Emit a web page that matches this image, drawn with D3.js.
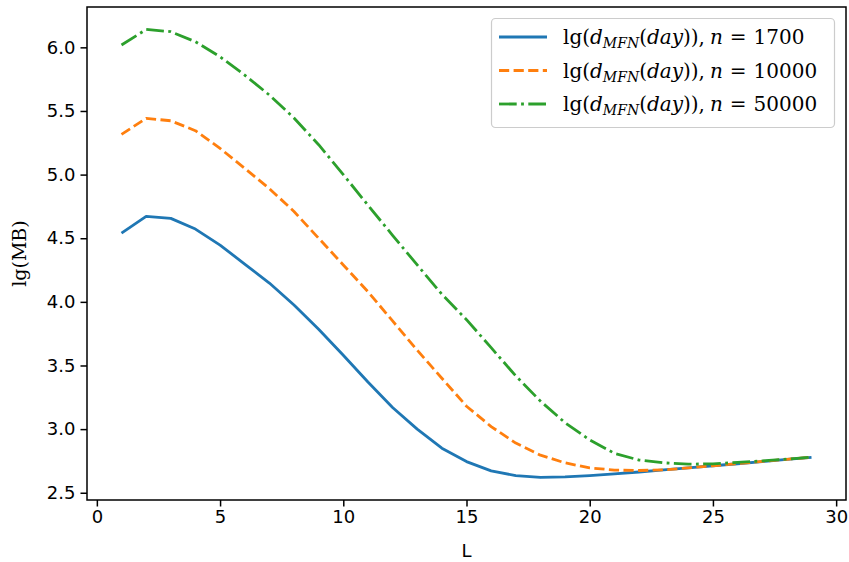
<!DOCTYPE html>
<html><head><meta charset="utf-8">
<script src="https://cdn.jsdelivr.net/npm/d3@7/dist/d3.min.js"></script>
<style>
body{margin:0;background:#fff;}
svg{display:block;}
</style></head>
<body>
<svg id="chart" width="849" height="562"></svg>
<script>
const L = d3.range(1, 30);
const n1700 = [4.54,4.672,4.656,4.572,4.446,4.297,4.148,3.975,3.785,3.58,3.37,3.17,3.0,2.85,2.745,2.672,2.635,2.62,2.624,2.635,2.648,2.663,2.68,2.695,2.712,2.728,2.745,2.762,2.778];
const n10000 = [5.316,5.442,5.423,5.345,5.206,5.049,4.89,4.71,4.5,4.29,4.08,3.85,3.62,3.4,3.18,3.02,2.89,2.795,2.735,2.695,2.678,2.675,2.68,2.695,2.712,2.729,2.746,2.763,2.779];
const n50000 = [6.018,6.141,6.123,6.044,5.926,5.782,5.625,5.445,5.235,5.0,4.76,4.523,4.29,4.06,3.86,3.64,3.418,3.22,3.05,2.915,2.81,2.757,2.735,2.725,2.727,2.738,2.75,2.764,2.779];
const seriesNames = ["1700","10000","50000"];
const xTicks = [0,5,10,15,20,25,30];
const yTicks = [2.5,3.0,3.5,4.0,4.5,5.0,5.5,6.0];

(function(){
const svg = d3.select("#chart");
const mL = 87, mR = 846, mT = 7, mB = 500;
const x = d3.scaleLinear().domain([-0.4, 30.4]).range([mL, mR]);
const y = d3.scaleLinear().domain([2.443, 6.317]).range([mB, mT]);

const series = [
  {vals:n1700, color:"#1f77b4", dash:null, name:seriesNames[0]},
  {vals:n10000, color:"#ff7f0e", dash:"10.2,4.4", name:seriesNames[1]},
  {vals:n50000, color:"#2ca02c", dash:"17.7,4.4,2.8,4.4", name:seriesNames[2]}
];

const line = d3.line().x((d,i)=>x(L[i])).y(d=>y(d));
series.forEach(s=>{
  svg.append("path").attr("d", line(s.vals)).attr("fill","none")
    .attr("stroke", s.color).attr("stroke-width", 2.8)
    .attr("stroke-dasharray", s.dash).attr("stroke-linejoin","round");
});

const tickFont = "'DejaVu Sans', sans-serif";
const xAxis = svg.append("g").attr("transform",`translate(0,${mB})`)
  .call(d3.axisBottom(x).tickValues(xTicks).tickFormat(d3.format("d")).tickSize(6.5).tickPadding(4));
const yAxis = svg.append("g").attr("transform",`translate(${mL},0)`)
  .call(d3.axisLeft(y).tickValues(yTicks).tickFormat(d3.format(".1f")).tickSize(6.5).tickPadding(5));
[xAxis,yAxis].forEach(a=>{
  a.select(".domain").remove();
  a.selectAll(".tick line").attr("stroke","#000").attr("stroke-width",1.5);
  a.selectAll(".tick text").attr("font-family",tickFont).attr("font-size",18).attr("fill","#000");
});
svg.append("rect").attr("x",mL).attr("y",mT).attr("width",mR-mL).attr("height",mB-mT)
  .attr("fill","none").attr("stroke","#000").attr("stroke-width",1.5);

svg.append("text").attr("x",(mL+mR)/2).attr("y",557).attr("text-anchor","middle")
  .attr("font-family",tickFont).attr("font-size",18).text("L");
svg.append("text").attr("transform",`translate(26,${(mT+mB)/2}) rotate(-90)`).attr("text-anchor","middle")
  .attr("font-family","'DejaVu Serif', serif").attr("font-size",19).text("lg(MB)");

const lg = svg.append("g");
lg.append("rect").attr("x",491.5).attr("y",18.5).attr("width",343).attr("height",109).attr("rx",4)
  .attr("fill","#fff").attr("fill-opacity",0.8).attr("stroke","#ccc").attr("stroke-width",1.2);
series.forEach((s,i)=>{
  const yy = 37 + i*33.5;
  lg.append("line").attr("x1",499).attr("x2",547).attr("y1",yy).attr("y2",yy)
    .attr("stroke",s.color).attr("stroke-width",2.8).attr("stroke-dasharray",s.dash);
  const t = lg.append("text").attr("x",563).attr("y",yy+7).attr("font-family","'DejaVu Serif', serif").attr("font-size",20);
  t.append("tspan").text("lg(");
  t.append("tspan").attr("font-style","italic").text("d");
  t.append("tspan").attr("font-style","italic").attr("font-size",14).attr("dy",4).text("MFN");
  t.append("tspan").attr("dy",-4).text("(");
  t.append("tspan").attr("font-style","italic").text("day");
  t.append("tspan").text(")),");
  t.append("tspan").attr("font-style","italic").attr("dx",5).text("n");
  t.append("tspan").attr("dx",7).text("=");
  t.append("tspan").attr("dx",7).text(s.name);
});
})();
</script>
</body></html>
